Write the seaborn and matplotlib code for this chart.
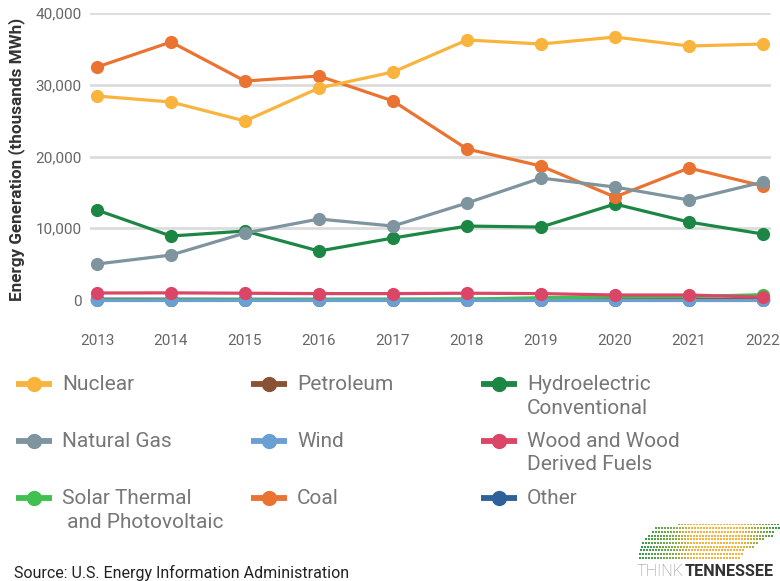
import numpy as np
import pandas as pd
import seaborn as sns
import matplotlib.pyplot as plt
from matplotlib.lines import Line2D
from matplotlib.colors import LinearSegmentedColormap

years = [2013, 2014, 2015, 2016, 2017, 2018, 2019, 2020, 2021, 2022]
nuclear = [28430, 27600, 24950, 29550, 31780, 36240, 35680, 36650, 35400, 35680]
petroleum = [80, 70, 60, 60, 60, 60, 60, 60, 60, 60]
hydro = [12540, 8920, 9620, 6830, 8640, 10310, 10170, 13380, 10870, 9200]
natural_gas = [5020, 6270, 9340, 11290, 10310, 13520, 17000, 15750, 13940, 16450]
wind = [40, 40, 40, 40, 40, 40, 40, 40, 40, 40]
wood = [980, 1000, 950, 900, 900, 950, 900, 700, 700, 400]
solar = [20, 30, 50, 60, 80, 130, 330, 430, 480, 750]
coal = [32470, 35960, 30520, 31220, 27740, 21050, 18680, 14360, 18400, 15890]
other = [120, 120, 110, 110, 110, 110, 110, 110, 110, 110]

series = {
    "Nuclear": nuclear,
    "Petroleum": petroleum,
    "Hydroelectric\nConventional": hydro,
    "Natural Gas": natural_gas,
    "Wind": wind,
    "Wood and Wood\nDerived Fuels": wood,
    "Solar Thermal\n and Photovoltaic": solar,
    "Coal": coal,
    "Other": other,
}
colors = {
    "Nuclear": "#F9B43D",
    "Petroleum": "#8A5234",
    "Hydroelectric\nConventional": "#1C8745",
    "Natural Gas": "#7E949E",
    "Wind": "#6A9FD3",
    "Wood and Wood\nDerived Fuels": "#DB4566",
    "Solar Thermal\n and Photovoltaic": "#40C050",
    "Coal": "#EB7331",
    "Other": "#2E6199",
}
draw_order = ["Other", "Petroleum", "Solar Thermal\n and Photovoltaic", "Wind",
              "Wood and Wood\nDerived Fuels", "Hydroelectric\nConventional",
              "Coal", "Natural Gas", "Nuclear"]

rows = []
for name in draw_order:
    for y, v in zip(years, series[name]):
        rows.append({"Year": y, "Value": v, "Source": name})
df = pd.DataFrame(rows)

sns.set_theme(style="white")
plt.rcParams['font.family'] = ['Roboto', 'DejaVu Sans']

fig = plt.figure(figsize=(7.8, 5.81), dpi=100)
W, H = 780, 581
ax_l, ax_r, ax_t, ax_b = 90, 771, 13, 306
ax = fig.add_axes([ax_l / W, 1 - ax_b / H, (ax_r - ax_l) / W, (ax_b - ax_t) / H])

sns.lineplot(data=df, x="Year", y="Value", hue="Source", hue_order=draw_order,
             palette=colors, marker="o", markersize=9.5, markeredgewidth=0,
             linewidth=2.3, legend=False, ax=ax, sort=False)

ax.set_xlim(2013 - 7 / 74, 2022 + 8 / 74)
ax.set_ylim(-830, 40000)
ax.set_xticks(years)
ax.set_xticklabels([str(y) for y in years])
ax.set_yticks([0, 10000, 20000, 30000, 40000])
ax.set_yticklabels(["0", "10,000", "20,000", "30,000", "40,000"])
ax.grid(axis="y", color="#DCDCDC", linewidth=2)
ax.set_axisbelow(True)
for s in ax.spines.values():
    s.set_visible(False)
ax.tick_params(axis="x", length=0, pad=20, labelsize=11, labelcolor="#666666")
ax.tick_params(axis="y", length=0, pad=6, labelsize=11, labelcolor="#666666")
ax.set_xlabel("")
ax.set_ylabel("Energy Generation (thousands MWh)", fontsize=12.3, fontweight="bold",
              color="#333333")
ax.yaxis.set_label_coords(-(ax_l - 25) / (ax_r - ax_l), 0.5)

# Legend (manual, 3 columns)
legend_layout = [
    ("Nuclear", 34, 384), ("Petroleum", 269, 384), ("Hydroelectric\nConventional", 499, 384),
    ("Natural Gas", 34, 441), ("Wind", 269, 441), ("Wood and Wood\nDerived Fuels", 499, 441),
    ("Solar Thermal\n and Photovoltaic", 34, 498), ("Coal", 269, 498), ("Other", 499, 498),
]
for name, cx, cy in legend_layout:
    c = colors[name]
    fy = 1 - cy / H
    fig.add_artist(Line2D([(cx - 18) / W, (cx + 18) / W], [fy, fy], color=c,
                          linewidth=4.2, transform=fig.transFigure, solid_capstyle="butt"))
    fig.add_artist(Line2D([cx / W], [fy], color=c, marker="o", markersize=11,
                          markeredgewidth=0, transform=fig.transFigure))
    fig.text((cx + 28) / W, fy + 9 / H, name, fontsize=15, color="#777777",
             va="top", ha="left", linespacing=1.3)

fig.text(14 / W, 1 - 573 / H, "Source: U.S. Energy Information Administration",
         fontsize=11.5, color="#222222", va="center", ha="left")

# Logo: dotted shape + text
lax = fig.add_axes([620 / W, 1 - 562 / H, 160 / W, 42 / H])
lax.set_xlim(620, 780)
lax.set_ylim(562, 520)
lax.axis("off")
cmap = LinearSegmentedColormap.from_list(
    "tn", [(0.0, "#2E9A48"), (0.25, "#7FAE40"), (0.38, "#F2B33D"),
           (0.72, "#F5B43A"), (0.82, "#A9AE3E"), (1.0, "#2E9A48")])
dx, dy = 3.0, 3.7
xs, ys, cs = [], [], []
row_starts = [679, 656, 653, 649, 646, 643, 642, 641, 640, 640]
row_ends = [780, 780, 776, 773, 765, 758, 755, 745, 745, 741]
for i, (x_start, x_end) in enumerate(zip(row_starts, row_ends)):
    yy = 524.5 + i * dy
    xx = np.arange(x_start, x_end, dx)
    xs.extend(xx)
    ys.extend([yy] * len(xx))
    cs.extend((xx - 640) / 140)
lax.scatter(xs, ys, s=2.0, c=np.clip(cs, 0, 1), cmap=cmap, marker="s", linewidths=0)

t1 = fig.text(637 / W, 1 - 571 / H, "THINK", fontsize=11.6, color="#888888",
              va="center", ha="left", fontweight="light")
fig.canvas.draw()
bb = t1.get_window_extent()
fig.text(bb.x1 / W + 0.5 / W, 1 - 571 / H, "TENNESSEE", fontsize=11.6, color="#333333",
         fontweight="bold", va="center", ha="left")

fig.savefig("out.png", dpi=100)
